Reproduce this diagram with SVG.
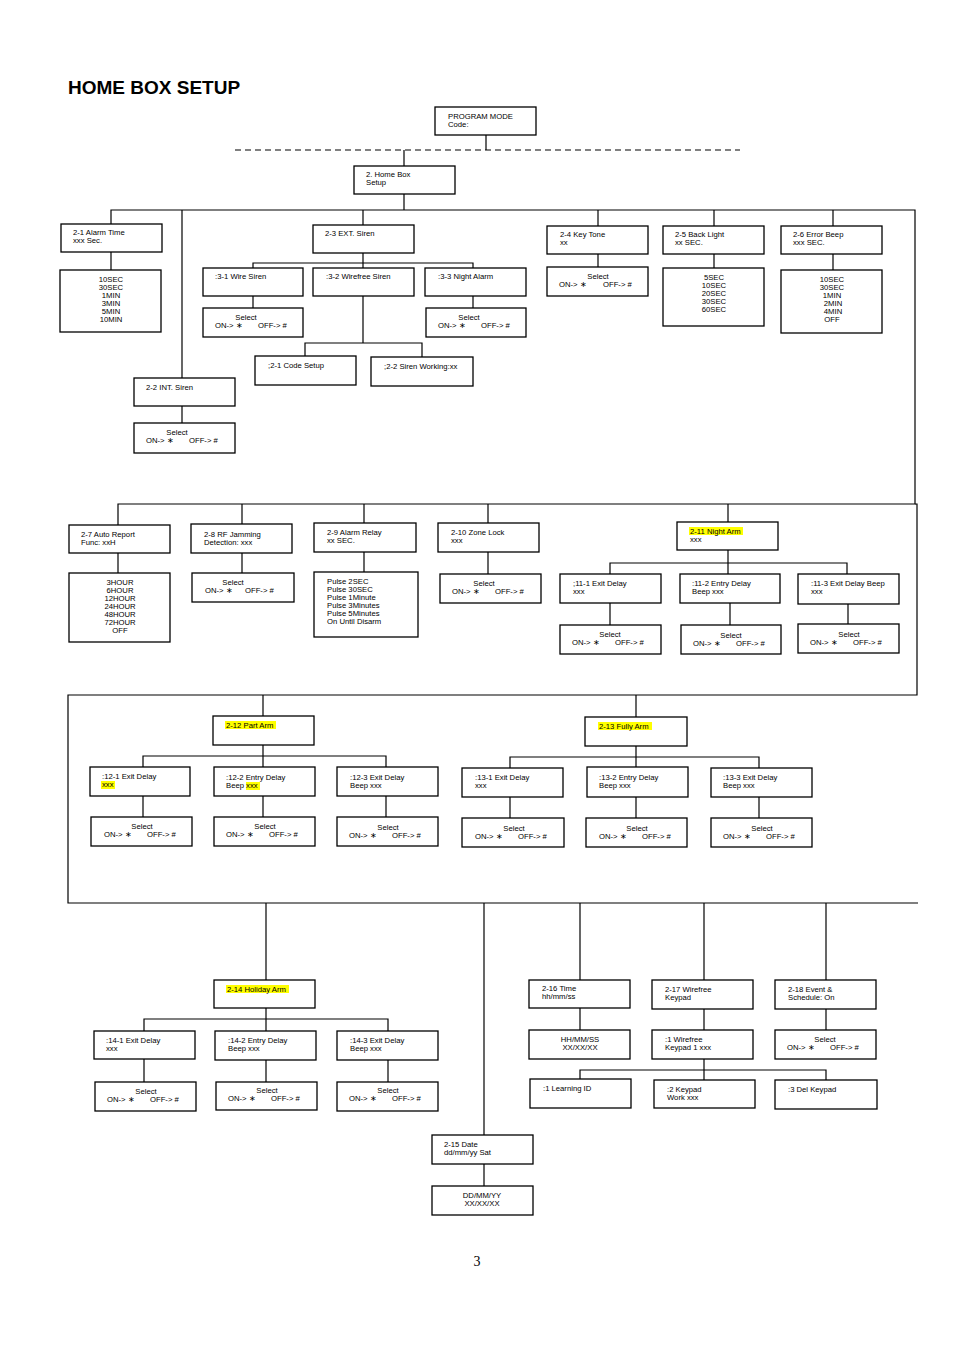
<svg xmlns="http://www.w3.org/2000/svg" width="954" height="1351" viewBox="0 0 954 1351">
<style>
rect.b{fill:#fff;stroke:#000;stroke-width:1.3}
text{font-family:"Liberation Sans",Arial,sans-serif;font-size:7.7px;fill:#000}
text.c{text-anchor:middle}
#conn line,#conn polyline{stroke:#000;stroke-width:1.2;fill:none}
rect.hl{fill:#ffff00}
</style>
<rect width="954" height="1351" fill="#fff"/>
<text x="68" y="94" style="font-size:19px;font-weight:bold">HOME BOX SETUP</text>
<text x="477" y="1266" class="c" style="font-family:'Liberation Serif',serif;font-size:14px">3</text>
<g id="conn">
<line x1="235" y1="150" x2="740" y2="150" stroke-dasharray="6,4"/>
<line x1="486" y1="135" x2="486" y2="150"/>
<line x1="404" y1="150" x2="404" y2="166"/>
<line x1="404" y1="194" x2="404" y2="210"/>
<polyline points="111,224 111,210 915,210 915,504 118,504 118,525"/>
<line x1="182" y1="210" x2="182" y2="378"/>
<line x1="363" y1="210" x2="363" y2="225"/>
<line x1="598" y1="210" x2="598" y2="226"/>
<line x1="714" y1="210" x2="714" y2="226"/>
<line x1="833" y1="210" x2="833" y2="226"/>
<line x1="111" y1="252" x2="111" y2="270"/>
<line x1="182" y1="406" x2="182" y2="423"/>
<line x1="363" y1="253" x2="363" y2="268"/>
<polyline points="253,268 253,263 473,263 473,268"/>
<line x1="253" y1="296" x2="253" y2="308"/>
<line x1="473" y1="296" x2="473" y2="308"/>
<line x1="363" y1="296" x2="363" y2="343"/>
<polyline points="305,356 305,343 422,343 422,357"/>
<line x1="598" y1="254" x2="598" y2="267"/>
<line x1="714" y1="254" x2="714" y2="268"/>
<line x1="833" y1="254" x2="833" y2="270"/>
<line x1="118" y1="553" x2="118" y2="573"/>
<line x1="242" y1="504" x2="242" y2="524"/>
<line x1="242" y1="553" x2="242" y2="573"/>
<line x1="364" y1="504" x2="364" y2="523"/>
<line x1="364" y1="552" x2="364" y2="572"/>
<line x1="488" y1="504" x2="488" y2="523"/>
<line x1="488" y1="552" x2="488" y2="574"/>
<line x1="728" y1="504" x2="728" y2="522"/>
<line x1="728" y1="550" x2="728" y2="574"/>
<polyline points="610,574 610,563 847,563 847,574"/>
<line x1="610" y1="603" x2="610" y2="625"/>
<line x1="730" y1="603" x2="730" y2="625"/>
<line x1="848" y1="604" x2="848" y2="624"/>
<polyline points="915,504 917,504 917,695 68,695 68,903 918,903"/>
<line x1="263" y1="695" x2="263" y2="716"/>
<line x1="636" y1="695" x2="636" y2="717"/>
<line x1="263" y1="745" x2="263" y2="767"/>
<polyline points="143,767 143,756 386,756 386,767"/>
<line x1="143" y1="796" x2="143" y2="817"/>
<line x1="263" y1="796" x2="263" y2="817"/>
<line x1="386" y1="796" x2="386" y2="817"/>
<line x1="636" y1="746" x2="636" y2="767"/>
<polyline points="510,768 510,757 759,757 759,768"/>
<line x1="510" y1="797" x2="510" y2="818"/>
<line x1="636" y1="797" x2="636" y2="818"/>
<line x1="759" y1="797" x2="759" y2="818"/>
<line x1="266" y1="903" x2="266" y2="980"/>
<line x1="484" y1="903" x2="484" y2="1135"/>
<line x1="580" y1="903" x2="580" y2="980"/>
<line x1="704" y1="903" x2="704" y2="980"/>
<line x1="826" y1="903" x2="826" y2="980"/>
<line x1="266" y1="1008" x2="266" y2="1031"/>
<polyline points="144,1031 144,1019 388,1019 388,1031"/>
<line x1="144" y1="1059" x2="144" y2="1082"/>
<line x1="266" y1="1060" x2="266" y2="1082"/>
<line x1="388" y1="1059" x2="388" y2="1082"/>
<line x1="484" y1="1164" x2="484" y2="1186"/>
<line x1="580" y1="1008" x2="580" y2="1030"/>
<line x1="704" y1="1009" x2="704" y2="1030"/>
<line x1="826" y1="1009" x2="826" y2="1030"/>
<line x1="704" y1="1059" x2="704" y2="1080"/>
<polyline points="580,1079 580,1070 826,1070 826,1080"/>
</g>

<g id="n-prog"><rect class="b" x="435" y="107" width="101" height="28"/><text x="448" y="119">PROGRAM MODE</text><text x="448" y="127">Code:</text></g>
<g id="n-2"><rect class="b" x="354" y="166" width="101" height="28"/><text x="366" y="177">2. Home Box</text><text x="366" y="185">Setup</text></g>

<g id="n-2-1"><rect class="b" x="61" y="224" width="101" height="28"/><text x="73" y="235">2-1 Alarm Time</text><text x="73" y="243">xxx Sec.</text></g>
<g id="n-2-1v"><rect class="b" x="60" y="270" width="101" height="62"/><text class="c" x="111" y="282">10SEC</text><text class="c" x="111" y="290">30SEC</text><text class="c" x="111" y="298">1MIN</text><text class="c" x="111" y="306">3MIN</text><text class="c" x="111" y="314">5MIN</text><text class="c" x="111" y="322">10MIN</text></g>
<g id="n-2-2"><rect class="b" x="134" y="378" width="101" height="28"/><text x="146" y="390">2-2 INT. Siren</text></g>
<g id="n-2-2s"><rect class="b" x="134" y="423" width="101" height="30"/><text class="c" x="177" y="435">Select</text><text x="146" y="443">ON-&gt; ∗</text><text x="189" y="443">OFF-&gt; #</text></g>
<g id="n-2-3"><rect class="b" x="313" y="225" width="101" height="28"/><text x="325" y="236">2-3 EXT. Siren</text></g>
<g id="n-3-1"><rect class="b" x="203" y="268" width="100" height="28"/><text x="215" y="279">:3-1 Wire Siren</text></g>
<g id="n-3-1s"><rect class="b" x="203" y="308" width="100" height="29"/><text class="c" x="246" y="320">Select</text><text x="215" y="328">ON-&gt; ∗</text><text x="258" y="328">OFF-&gt; #</text></g>
<g id="n-3-2"><rect class="b" x="313" y="268" width="101" height="28"/><text x="326" y="279">:3-2 Wirefree Siren</text></g>
<g id="n-3-3"><rect class="b" x="425" y="268" width="101" height="28"/><text x="438" y="279">:3-3 Night Alarm</text></g>
<g id="n-3-3s"><rect class="b" x="426" y="308" width="100" height="29"/><text class="c" x="469" y="320">Select</text><text x="438" y="328">ON-&gt; ∗</text><text x="481" y="328">OFF-&gt; #</text></g>
<g id="n-c21"><rect class="b" x="255" y="356" width="101" height="29"/><text x="268" y="368">;2-1 Code Setup</text></g>
<g id="n-c22"><rect class="b" x="371" y="357" width="102" height="29"/><text x="384" y="369">;2-2 Siren Working:xx</text></g>
<g id="n-2-4"><rect class="b" x="547" y="226" width="101" height="28"/><text x="560" y="237">2-4 Key Tone</text><text x="560" y="245">xx</text></g>
<g id="n-2-4s"><rect class="b" x="547" y="267" width="101" height="29"/><text class="c" x="598" y="279">Select</text><text x="559" y="287">ON-&gt; ∗</text><text x="603" y="287">OFF-&gt; #</text></g>
<g id="n-2-5"><rect class="b" x="663" y="226" width="101" height="28"/><text x="675" y="237">2-5 Back Light</text><text x="675" y="245">xx SEC.</text></g>
<g id="n-2-5v"><rect class="b" x="663" y="268" width="101" height="58"/><text class="c" x="714" y="280">5SEC</text><text class="c" x="714" y="288">10SEC</text><text class="c" x="714" y="296">20SEC</text><text class="c" x="714" y="304">30SEC</text><text class="c" x="714" y="312">60SEC</text></g>
<g id="n-2-6"><rect class="b" x="781" y="226" width="101" height="28"/><text x="793" y="237">2-6 Error Beep</text><text x="793" y="245">xxx SEC.</text></g>
<g id="n-2-6v"><rect class="b" x="781" y="270" width="101" height="63"/><text class="c" x="832" y="282">10SEC</text><text class="c" x="832" y="290">30SEC</text><text class="c" x="832" y="298">1MIN</text><text class="c" x="833" y="306">2MIN</text><text class="c" x="833" y="314">4MIN</text><text class="c" x="832" y="322">OFF</text></g>

<g id="n-2-7"><rect class="b" x="69" y="525" width="101" height="28"/><text x="81" y="537">2-7 Auto Report</text><text x="81" y="545">Func: xxH</text></g>
<g id="n-2-7v"><rect class="b" x="69" y="573" width="101" height="69"/><text class="c" x="120" y="585">3HOUR</text><text class="c" x="120" y="593">6HOUR</text><text class="c" x="120" y="601">12HOUR</text><text class="c" x="120" y="609">24HOUR</text><text class="c" x="120" y="617">48HOUR</text><text class="c" x="120" y="625">72HOUR</text><text class="c" x="120" y="633">OFF</text></g>
<g id="n-2-8"><rect class="b" x="191" y="524" width="101" height="29"/><text x="204" y="537">2-8 RF Jamming</text><text x="204" y="545">Detection: xxx</text></g>
<g id="n-2-8s"><rect class="b" x="192" y="573" width="102" height="29"/><text class="c" x="233" y="585">Select</text><text x="205" y="593">ON-&gt; ∗</text><text x="245" y="593">OFF-&gt; #</text></g>
<g id="n-2-9"><rect class="b" x="314" y="523" width="102" height="29"/><text x="327" y="535">2-9 Alarm Relay</text><text x="327" y="543">xx SEC.</text></g>
<g id="n-2-9v"><rect class="b" x="314" y="572" width="104" height="65"/><text x="327" y="584">Pulse 2SEC</text><text x="327" y="592">Pulse 30SEC</text><text x="327" y="600">Pulse 1Minute</text><text x="327" y="608">Pulse 3Minutes</text><text x="327" y="616">Pulse 5Minutes</text><text x="327" y="624">On Until Disarm</text></g>
<g id="n-2-10"><rect class="b" x="438" y="523" width="101" height="29"/><text x="451" y="535">2-10 Zone Lock</text><text x="451" y="543">xxx</text></g>
<g id="n-2-10s"><rect class="b" x="440" y="574" width="101" height="29"/><text class="c" x="484" y="586">Select</text><text x="452" y="594">ON-&gt; ∗</text><text x="495" y="594">OFF-&gt; #</text></g>
<g id="n-2-11"><rect class="b" x="677" y="522" width="101" height="28"/><rect class="hl" x="689" y="527" width="54" height="8"/><text x="690" y="534">2-11 Night Arm</text><text x="690" y="542">xxx</text></g>
<g id="n-11-1"><rect class="b" x="560" y="574" width="101" height="29"/><text x="573" y="586">;11-1 Exit Delay</text><text x="573" y="594">xxx</text></g>
<g id="n-11-1s"><rect class="b" x="560" y="625" width="101" height="29"/><text class="c" x="610" y="637">Select</text><text x="572" y="645">ON-&gt; ∗</text><text x="615" y="645">OFF-&gt; #</text></g>
<g id="n-11-2"><rect class="b" x="680" y="574" width="100" height="29"/><text x="692" y="586">:11-2 Entry Delay</text><text x="692" y="594">Beep xxx</text></g>
<g id="n-11-2s"><rect class="b" x="681" y="625" width="100" height="29"/><text class="c" x="731" y="638">Select</text><text x="693" y="646">ON-&gt; ∗</text><text x="736" y="646">OFF-&gt; #</text></g>
<g id="n-11-3"><rect class="b" x="798" y="574" width="101" height="30"/><text x="811" y="586">:11-3 Exit Delay Beep</text><text x="811" y="594">xxx</text></g>
<g id="n-11-3s"><rect class="b" x="798" y="624" width="101" height="29"/><text class="c" x="849" y="637">Select</text><text x="810" y="645">ON-&gt; ∗</text><text x="853" y="645">OFF-&gt; #</text></g>

<g id="n-2-12"><rect class="b" x="213" y="716" width="101" height="29"/><rect class="hl" x="225" y="721" width="51" height="8"/><text x="226" y="728">2-12 Part Arm</text></g>
<g id="n-12-1"><rect class="b" x="90" y="767" width="100" height="29"/><text x="102" y="779">:12-1 Exit Delay</text><rect class="hl" x="101" y="781" width="14" height="8"/><text x="102" y="787">xxx</text></g>
<g id="n-12-1s"><rect class="b" x="91" y="817" width="101" height="29"/><text class="c" x="142" y="829">Select</text><text x="104" y="837">ON-&gt; ∗</text><text x="147" y="837">OFF-&gt; #</text></g>
<g id="n-12-2"><rect class="b" x="214" y="767" width="101" height="29"/><text x="226" y="780">:12-2 Entry Delay</text><rect class="hl" x="246" y="782" width="14" height="8"/><text x="226" y="788">Beep xxx</text></g>
<g id="n-12-2s"><rect class="b" x="214" y="817" width="101" height="29"/><text class="c" x="265" y="829">Select</text><text x="226" y="837">ON-&gt; ∗</text><text x="269" y="837">OFF-&gt; #</text></g>
<g id="n-12-3"><rect class="b" x="337" y="767" width="101" height="29"/><text x="350" y="780">:12-3 Exit Delay</text><text x="350" y="788">Beep xxx</text></g>
<g id="n-12-3s"><rect class="b" x="337" y="817" width="101" height="29"/><text class="c" x="388" y="830">Select</text><text x="349" y="838">ON-&gt; ∗</text><text x="392" y="838">OFF-&gt; #</text></g>
<g id="n-2-13"><rect class="b" x="585" y="717" width="102" height="29"/><rect class="hl" x="598" y="722" width="54" height="8"/><text x="599" y="729">2-13 Fully Arm</text></g>
<g id="n-13-1"><rect class="b" x="462" y="768" width="101" height="29"/><text x="475" y="780">:13-1 Exit Delay</text><text x="475" y="788">xxx</text></g>
<g id="n-13-1s"><rect class="b" x="462" y="818" width="102" height="29"/><text class="c" x="514" y="831">Select</text><text x="475" y="839">ON-&gt; ∗</text><text x="518" y="839">OFF-&gt; #</text></g>
<g id="n-13-2"><rect class="b" x="587" y="767" width="101" height="30"/><text x="599" y="780">:13-2 Entry Delay</text><text x="599" y="788">Beep xxx</text></g>
<g id="n-13-2s"><rect class="b" x="586" y="818" width="101" height="29"/><text class="c" x="637" y="831">Select</text><text x="599" y="839">ON-&gt; ∗</text><text x="642" y="839">OFF-&gt; #</text></g>
<g id="n-13-3"><rect class="b" x="711" y="768" width="101" height="29"/><text x="723" y="780">:13-3 Exit Delay</text><text x="723" y="788">Beep xxx</text></g>
<g id="n-13-3s"><rect class="b" x="711" y="818" width="101" height="29"/><text class="c" x="762" y="831">Select</text><text x="723" y="839">ON-&gt; ∗</text><text x="766" y="839">OFF-&gt; #</text></g>

<g id="n-2-14"><rect class="b" x="214" y="980" width="101" height="28"/><rect class="hl" x="226" y="985" width="63" height="8"/><text x="227" y="992">2-14 Holiday Arm</text></g>
<g id="n-14-1"><rect class="b" x="94" y="1031" width="101" height="28"/><text x="106" y="1043">:14-1 Exit Delay</text><text x="106" y="1051">xxx</text></g>
<g id="n-14-1s"><rect class="b" x="95" y="1082" width="101" height="29"/><text class="c" x="146" y="1094">Select</text><text x="107" y="1102">ON-&gt; ∗</text><text x="150" y="1102">OFF-&gt; #</text></g>
<g id="n-14-2"><rect class="b" x="215" y="1031" width="101" height="29"/><text x="228" y="1043">:14-2 Entry Delay</text><text x="228" y="1051">Beep xxx</text></g>
<g id="n-14-2s"><rect class="b" x="216" y="1082" width="101" height="28"/><text class="c" x="267" y="1093">Select</text><text x="228" y="1101">ON-&gt; ∗</text><text x="271" y="1101">OFF-&gt; #</text></g>
<g id="n-14-3"><rect class="b" x="337" y="1031" width="101" height="29"/><text x="350" y="1043">:14-3 Exit Delay</text><text x="350" y="1051">Beep xxx</text></g>
<g id="n-14-3s"><rect class="b" x="337" y="1082" width="101" height="29"/><text class="c" x="388" y="1093">Select</text><text x="349" y="1101">ON-&gt; ∗</text><text x="392" y="1101">OFF-&gt; #</text></g>
<g id="n-2-15"><rect class="b" x="432" y="1135" width="101" height="29"/><text x="444" y="1147">2-15 Date</text><text x="444" y="1155">dd/mm/yy Sat</text></g>
<g id="n-2-15v"><rect class="b" x="432" y="1186" width="101" height="29"/><text class="c" x="482" y="1198">DD/MM/YY</text><text class="c" x="482" y="1206">XX/XX/XX</text></g>
<g id="n-2-16"><rect class="b" x="529" y="980" width="101" height="28"/><text x="542" y="991">2-16 Time</text><text x="542" y="999">hh/mm/ss</text></g>
<g id="n-2-16v"><rect class="b" x="529" y="1030" width="101" height="29"/><text class="c" x="580" y="1042">HH/MM/SS</text><text class="c" x="580" y="1050">XX/XX/XX</text></g>
<g id="n-2-17"><rect class="b" x="652" y="980" width="101" height="29"/><text x="665" y="992">2-17 Wirefree</text><text x="665" y="1000">Keypad</text></g>
<g id="n-17-1"><rect class="b" x="652" y="1030" width="101" height="29"/><text x="665" y="1042">:1 Wirefree</text><text x="665" y="1050">Keypad 1 xxx</text></g>
<g id="n-17-l"><rect class="b" x="530" y="1079" width="101" height="29"/><text x="543" y="1091">:1 Learning ID</text></g>
<g id="n-17-2"><rect class="b" x="654" y="1080" width="101" height="28"/><text x="667" y="1092">:2 Keypad</text><text x="667" y="1100">Work xxx</text></g>
<g id="n-17-3"><rect class="b" x="775" y="1080" width="102" height="29"/><text x="788" y="1092">:3 Del Keypad</text></g>
<g id="n-2-18"><rect class="b" x="775" y="980" width="101" height="29"/><text x="788" y="992">2-18 Event &amp;</text><text x="788" y="1000">Schedule: On</text></g>
<g id="n-2-18s"><rect class="b" x="775" y="1030" width="101" height="29"/><text class="c" x="825" y="1042">Select</text><text x="787" y="1050">ON-&gt; ∗</text><text x="830" y="1050">OFF-&gt; #</text></g>
</svg>
